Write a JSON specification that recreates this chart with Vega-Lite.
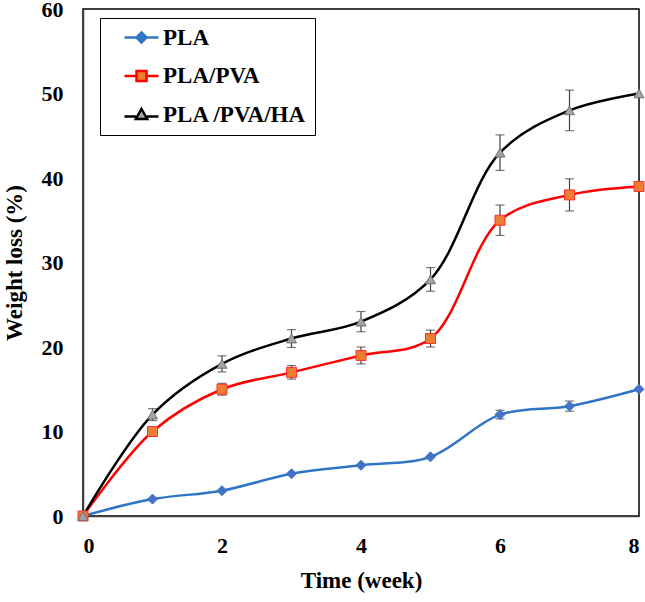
{
  "$schema": "https://vega.github.io/schema/vega-lite/v6.json",
  "width": 556,
  "height": 507,
  "autosize": "none",
  "padding": {"left": 83, "top": 9, "right": 6, "bottom": 86},
  "background": "white",
  "config": {
    "view": {"stroke": "black", "strokeWidth": 1.5},
    "axis": {
      "grid": false,
      "ticks": false,
      "domainColor": "#404040",
      "domainWidth": 1.5,
      "labelFont": "Liberation Serif",
      "labelFontWeight": "bold",
      "labelFontSize": 22,
      "labelColor": "black",
      "titleFont": "Liberation Serif",
      "titleFontWeight": "bold",
      "titleFontSize": 23,
      "titleColor": "black"
    }
  },
  "data": {
    "values": [
      {"series": "PLA", "week": 0, "loss": 0, "err": 0},
      {"series": "PLA", "week": 1, "loss": 2, "err": 0},
      {"series": "PLA", "week": 2, "loss": 3, "err": 0},
      {"series": "PLA", "week": 3, "loss": 5, "err": 0},
      {"series": "PLA", "week": 4, "loss": 6, "err": 0},
      {"series": "PLA", "week": 5, "loss": 7, "err": 0},
      {"series": "PLA", "week": 6, "loss": 12, "err": 0.5},
      {"series": "PLA", "week": 7, "loss": 13, "err": 0.6},
      {"series": "PLA", "week": 8, "loss": 15, "err": 0},
      {"series": "PLA/PVA", "week": 0, "loss": 0, "err": 0},
      {"series": "PLA/PVA", "week": 1, "loss": 10, "err": 0.3},
      {"series": "PLA/PVA", "week": 2, "loss": 15, "err": 0.7},
      {"series": "PLA/PVA", "week": 3, "loss": 17, "err": 0.8},
      {"series": "PLA/PVA", "week": 4, "loss": 19, "err": 1.0},
      {"series": "PLA/PVA", "week": 5, "loss": 21, "err": 1.0},
      {"series": "PLA/PVA", "week": 6, "loss": 35, "err": 1.8},
      {"series": "PLA/PVA", "week": 7, "loss": 38, "err": 1.9},
      {"series": "PLA/PVA", "week": 8, "loss": 39, "err": 0},
      {"series": "PLA /PVA/HA", "week": 0, "loss": 0, "err": 0},
      {"series": "PLA /PVA/HA", "week": 1, "loss": 12, "err": 0.7},
      {"series": "PLA /PVA/HA", "week": 2, "loss": 18, "err": 0.95},
      {"series": "PLA /PVA/HA", "week": 3, "loss": 21, "err": 1.05},
      {"series": "PLA /PVA/HA", "week": 4, "loss": 23, "err": 1.2},
      {"series": "PLA /PVA/HA", "week": 5, "loss": 28, "err": 1.4},
      {"series": "PLA /PVA/HA", "week": 6, "loss": 43, "err": 2.1},
      {"series": "PLA /PVA/HA", "week": 7, "loss": 48, "err": 2.4},
      {"series": "PLA /PVA/HA", "week": 8, "loss": 50, "err": 0}
    ]
  },
  "encoding": {
    "x": {
      "field": "week", "type": "quantitative",
      "scale": {"domain": [0, 8], "nice": false},
      "axis": {"values": [0, 2, 4, 6, 8], "title": "Time (week)", "labelPadding": 19, "titlePadding": 13, "format": "d"}
    },
    "y": {
      "field": "loss", "type": "quantitative",
      "scale": {"domain": [0, 60], "nice": false},
      "axis": {"values": [0, 10, 20, 30, 40, 50, 60], "title": "Weight loss (%)", "labelPadding": 20, "titlePadding": 15, "format": "d"}
    }
  },
  "layer": [
    {
      "mark": {"type": "line", "interpolate": "catmull-rom", "strokeWidth": 2.5},
      "encoding": {
        "stroke": {
          "field": "series", "type": "nominal",
          "scale": {"domain": ["PLA", "PLA/PVA", "PLA /PVA/HA"], "range": ["#2E75C6", "#FF0000", "#000000"]},
          "legend": null
        },
        "detail": {"field": "series"}
      }
    },
    {
      "transform": [{"filter": "datum.err > 0"}],
      "mark": {"type": "errorbar", "ticks": {"size": 9, "color": "#404040", "strokeWidth": 1.2}, "color": "#404040", "thickness": 1.2},
      "encoding": {
        "y": {"field": "loss", "type": "quantitative"},
        "yError": {"field": "err"},
        "detail": {"field": "series"}
      }
    },
    {
      "mark": {"type": "point", "filled": true, "size": 100, "strokeWidth": 1, "opacity": 1},
      "encoding": {
        "shape": {
          "field": "series", "type": "nominal",
          "scale": {"domain": ["PLA", "PLA/PVA", "PLA /PVA/HA"], "range": ["diamond", "square", "triangle-up"]},
          "legend": null
        },
        "fill": {
          "field": "series", "type": "nominal",
          "scale": {"domain": ["PLA", "PLA/PVA", "PLA /PVA/HA"], "range": ["#4472C4", "#ED7D31", "#A5A5A5"]},
          "legend": null
        },
        "stroke": {
          "field": "series", "type": "nominal",
          "scale": {"domain": ["PLA", "PLA/PVA", "PLA /PVA/HA"], "range": ["#4472C4", "#FF3030", "#707070"]},
          "legend": null
        }
      }
    },
    {
      "transform": [{"filter": "datum.week < 0"}],
      "mark": {"type": "point", "filled": true, "opacity": 1},
      "encoding": {
        "shape": {
          "field": "series", "type": "nominal",
          "scale": {"domain": ["PLA", "PLA/PVA", "PLA /PVA/HA"], "range": [
            "M-3.4,0H3.4M0,-1L1,0L0,1L-1,0Z",
            "M-3.4,0H-1M1,0H3.4M-1,-1H1V1H-1Z",
            "M-3.4,0.4H-1.1M1.1,0.4H3.4M0,-1.1L1.15,0.9L-1.15,0.9Z"
          ]},
          "legend": {
            "title": null,
            "orient": "none",
            "legendX": 17,
            "legendY": 9,
            "strokeColor": "black",
            "fillColor": "white",
            "padding": 8,
            "rowPadding": 14.5,
            "symbolSize": 100,
            "symbolStrokeWidth": 2.5,
            "symbolOpacity": 1,
            "symbolOffset": 22,
            "labelOffset": 10,
            "labelFont": "Liberation Serif",
            "labelFontWeight": "bold",
            "labelFontSize": 23,
            "labelColor": "black",
            "labelLimit": 300
          }
        },
        "fill": {
          "field": "series", "type": "nominal",
          "scale": {"domain": ["PLA", "PLA/PVA", "PLA /PVA/HA"], "range": ["#4472C4", "#ED7D31", "#A5A5A5"]}
        },
        "stroke": {
          "field": "series", "type": "nominal",
          "scale": {"domain": ["PLA", "PLA/PVA", "PLA /PVA/HA"], "range": ["#2E75C6", "#FF0000", "#000000"]}
        }
      }
    }
  ],
  "resolve": {"scale": {"shape": "independent", "fill": "independent", "stroke": "independent"}}
}
